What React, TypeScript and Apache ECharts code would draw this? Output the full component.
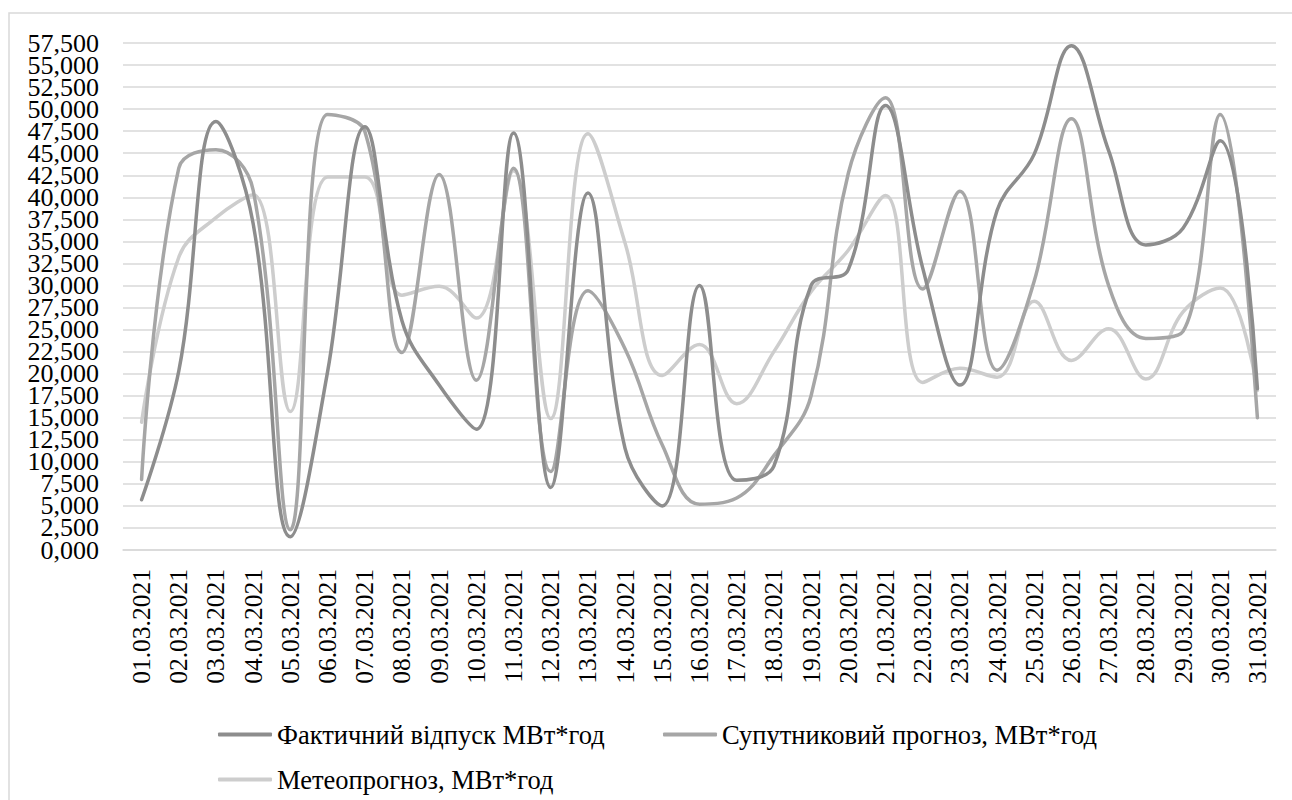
import React, { useEffect, useRef } from "react";
import * as echarts from "echarts";

const categories = [
  "01.03.2021", "02.03.2021", "03.03.2021", "04.03.2021", "05.03.2021", "06.03.2021",
  "07.03.2021", "08.03.2021", "09.03.2021", "10.03.2021", "11.03.2021", "12.03.2021",
  "13.03.2021", "14.03.2021", "15.03.2021", "16.03.2021", "17.03.2021", "18.03.2021",
  "19.03.2021", "20.03.2021", "21.03.2021", "22.03.2021", "23.03.2021", "24.03.2021",
  "25.03.2021", "26.03.2021", "27.03.2021", "28.03.2021", "29.03.2021", "30.03.2021",
  "31.03.2021",
];

const seriesNames = [
  "Фактичний відпуск МВт*год",
  "Супутниковий прогноз, МВт*год",
  "Метеопрогноз, МВт*год",
];

const factual = [
  5700, 20300, 48600, 37000, 1500, 20200, 48000, 26000, 18700, 13700, 47300, 7100,
  40500, 11500, 5000, 30000, 7900, 9500, 30000, 31800, 50400, 32000, 18700, 38500,
  44900, 57200, 45300, 34600, 36500, 46400, 18300,
];

const satellite = [
  8000, 43300, 45400, 40800, 2300, 49400, 47500, 22400, 42600, 19250, 43300, 8900,
  29400, 22800, 11900, 5200, 5900, 10700, 17500, 42700, 51300, 29600, 40700, 20400,
  30500, 48900, 30000, 24000, 24800, 49400, 15000,
];

const meteo = [
  14500, 33200, 37700, 40300, 15700, 42300, 42300, 28900, 29900, 26300, 43000, 14900,
  47200, 34800, 19800, 23300, 16600, 22500, 29300, 34000, 40200, 19000, 20600, 19600,
  28200, 21500, 25100, 19400, 27000, 29700, 18100,
];

const yTickValues = [
  0, 2500, 5000, 7500, 10000, 12500, 15000, 17500, 20000, 22500, 25000, 27500,
  30000, 32500, 35000, 37500, 40000, 42500, 45000, 47500, 50000, 52500, 55000, 57500,
];
const yTickLabels = [
  "0,000", "2,500", "5,000", "7,500", "10,000", "12,500", "15,000", "17,500",
  "20,000", "22,500", "25,000", "27,500", "30,000", "32,500", "35,000", "37,500",
  "40,000", "42,500", "45,000", "47,500", "50,000", "52,500", "55,000", "57,500",
];

const yMin = 0;
const yMax = 57500;
const yStep = 2500;

const colors = ["#8d8d8d", "#a6a6a6", "#cdcdcd"];
const FONT = "Liberation Serif";

export default function App() {
  const ref = useRef<HTMLDivElement>(null);

  useEffect(() => {
    if (!ref.current) return;
    const chart = echarts.init(ref.current, undefined, { renderer: "svg" });
    const data = [factual, satellite, meteo];
    const legendPos = [
      { left: 213, top: 716 },
      { left: 658, top: 716 },
      { left: 213, top: 761 },
    ];
    chart.setOption({
      animation: false,
      backgroundColor: "#ffffff",
      grid: { left: 123, right: 16, top: 43, bottom: 250, containLabel: false },
      legend: seriesNames.map((n, i) => ({
        data: [n],
        left: legendPos[i].left,
        top: legendPos[i].top,
        icon: "roundRect",
        itemWidth: 54,
        itemHeight: 4,
        textStyle: { fontFamily: FONT, fontSize: 26.5, color: "#000" },
        selectedMode: false,
      })),
      xAxis: {
        type: "category",
        data: categories,
        boundaryGap: true,
        axisLine: { show: true, lineStyle: { color: "#d9d9d9", width: 1.5 } },
        axisTick: { show: false },
        axisLabel: {
          rotate: 90,
          interval: 0,
          margin: 19,
          color: "#000",
          fontFamily: FONT,
          fontSize: 25.5,
        },
      },
      yAxis: {
        type: "value",
        min: yMin,
        max: yMax,
        interval: yStep,
        axisLine: { show: false },
        axisTick: { show: false },
        splitLine: { show: true, lineStyle: { color: "#d9d9d9", width: 1.5 } },
        axisLabel: { show: false },
      },
      series: seriesNames.map((n, i) => ({
        name: n,
        type: "line",
        data: data[i],
        smooth: 0.4,
        symbol: "none",
        color: colors[i],
        lineStyle: { color: colors[i], width: 3.5, cap: "round", join: "round" },
        z: 3 - i,
      })),
    });

    const gridLeft = 123;
    const labelEls = yTickValues.map((v, i) => {
      const py = chart.convertToPixel({ yAxisIndex: 0 }, v) as number;
      return {
        type: "text",
        x: gridLeft - 24,
        y: py,
        silent: true,
        style: {
          text: yTickLabels[i],
          align: "right",
          verticalAlign: "middle",
          fontFamily: FONT,
          fontSize: 26,
          fill: "#000",
        },
      };
    });
    chart.setOption({
      graphic: [
        {
          type: "rect",
          silent: true,
          shape: { x: 9, y: 13, width: 1400, height: 900 },
          style: { fill: "none", stroke: "#d9d9d9", lineWidth: 1.5 },
        },
        ...labelEls,
      ],
    });
    return () => chart.dispose();
  }, []);

  return (
    <div
      ref={ref}
      style={{ position: "fixed", left: 0, top: 0, width: 1292, height: 800, background: "#fff" }}
    />
  );
}
